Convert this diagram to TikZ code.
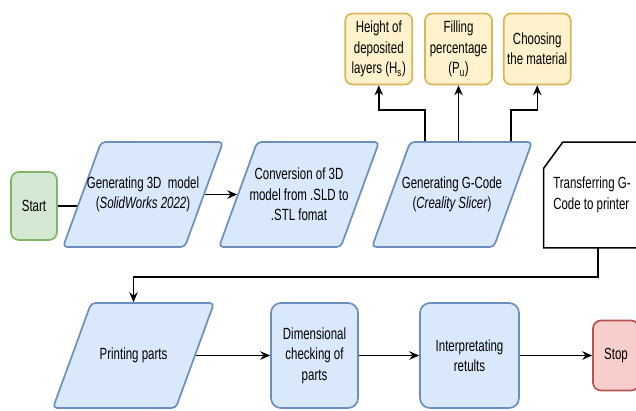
\documentclass[tikz,border=0pt]{standalone}
\usepackage{fontspec}
\setmainfont{Liberation Sans}[FakeStretch=0.71]
\usepackage{tikz}
\usetikzlibrary{shapes.geometric, arrows.meta, positioning, backgrounds}

\definecolor{stepfill}{HTML}{DAE8FC}
\definecolor{stepdraw}{HTML}{6C8EBF}
\definecolor{startfill}{HTML}{D5E8D4}
\definecolor{startdraw}{HTML}{82B366}
\definecolor{stopfill}{HTML}{F8CECC}
\definecolor{stopdraw}{HTML}{B85450}
\definecolor{parfill}{HTML}{FFF2CC}
\definecolor{pardraw}{HTML}{D6B656}

\tikzset{
    flowfont/.style={
        font=\fontsize{11.5}{14.5}\selectfont,
        align=center,
        inner sep=1pt
    },
    startbox/.style={
        flowfont,
        rectangle,
        rounded corners=0.2cm,
        draw=startdraw,
        fill=startfill,
        line width=1.2pt,
        minimum width=1.15cm,
        minimum height=1.7cm
    },
    stopbox/.style={
        startbox,
        draw=stopdraw,
        fill=stopfill,
        minimum height=1.75cm
    },
    iobox/.style={
        trapezium,
        trapezium left angle=70,
        trapezium right angle=110,
        rounded corners=3pt,
        draw=stepdraw,
        fill=stepfill,
        line width=1.2pt,
        inner xsep=1.045cm,
        inner ysep=1.3125cm
    },
    stepbox/.style={
        flowfont,
        rectangle,
        rounded corners=0.25cm,
        draw=stepdraw,
        fill=stepfill,
        line width=1.2pt,
        minimum height=2.625cm
    },
    parbox/.style={
        flowfont,
        rectangle,
        rounded corners=0.18cm,
        draw=pardraw,
        fill=parfill,
        line width=1.2pt,
        minimum width=1.675cm,
        minimum height=1.775cm
    },
    cardbox/.style={
        flowfont,
        rectangle,
        minimum width=2.4cm,
        minimum height=2.625cm
    },
    cardline/.style={
        draw=black,
        line width=1.1pt,
        fill=white
    },
    link/.style={
        draw=black,
        line width=1pt
    },
    arrow/.style={
        link,
        -{Stealth[length=7pt,width=6pt]}
    }
}

\begin{document}
\begin{tikzpicture}[x=0.025cm, y=-0.025cm]

\useasboundingbox (0,0) rectangle (636,410);
\clip (0,0) rectangle (636,410);

% Upper row
\node[startbox] (start) at (34,206) {Start};
\node[iobox, label={[flowfont]center:{Generating 3D\ \ model\\(\textit{SolidWorks 2022})}}] (model) at (143,194.5) {};
\node[iobox, label={[flowfont]center:{Conversion of 3D\\model from .SLD to\\.STL fomat}}] (conv) at (299,194.5) {};
\node[iobox, label={[flowfont]center:{Generating G-Code\\(\textit{Creality Slicer})}}] (gcode) at (452,194.5) {};

% Card (cut corner)
\node[cardbox] (trans) at (592,195) {};
\path[cardline] ([xshift=0.475cm]trans.north west) -- (trans.north east) -- (trans.south east)
    -- (trans.south west) -- ([yshift=-0.65cm]trans.north west) -- cycle;
\node[flowfont, align=left] at (trans) {Transferring G-\\Code to printer};

% Slicer parameters
\node[parbox] (fill) at (458.5,49) {Filling\\percentage\\(P\textsubscript{u})};
\node[parbox, left=0.275cm of fill] (hgt) {Height of\\deposited\\layers (H\textsubscript{s})};
\node[parbox, right=0.25cm of fill] (mat) {Choosing\\the material};

% Lower row
\node[iobox, inner xsep=1.058cm, label={[flowfont]center:{Printing parts}}] (print) at (133.5,355.5) {};
\node[stepbox, minimum width=2.175cm] (dim) at (314.5,355.5) {Dimensional\\checking of\\parts};
\node[stepbox, minimum width=2.475cm] (interp) at (469.5,355.5) {Interpretating\\retults};
\node[stopbox] (stop) at (616,355.5) {Stop};

% Connections
\begin{scope}[on background layer]
\draw[link] (start.east) -- (start.east -| model.west);
\end{scope}
\draw[arrow] (model) -- (conv);

\coordinate (hbend) at (425,110);
\coordinate (mbend) at (511,110);
\draw[arrow] (hbend |- gcode.north) -- (hbend) -| (hgt.south);
\draw[arrow] (fill.south |- gcode.north) -- (fill.south);
\draw[arrow] (mbend |- gcode.north) -- (mbend) -| (mat.south);

\draw[arrow] ([xshift=0.15cm]trans.south) -- ++(0,29) -| (print.north);
\draw[arrow] (print) -- (dim);
\draw[arrow] (dim) -- (interp);
\draw[arrow] (interp) -- (stop);

\end{tikzpicture}
\end{document}
